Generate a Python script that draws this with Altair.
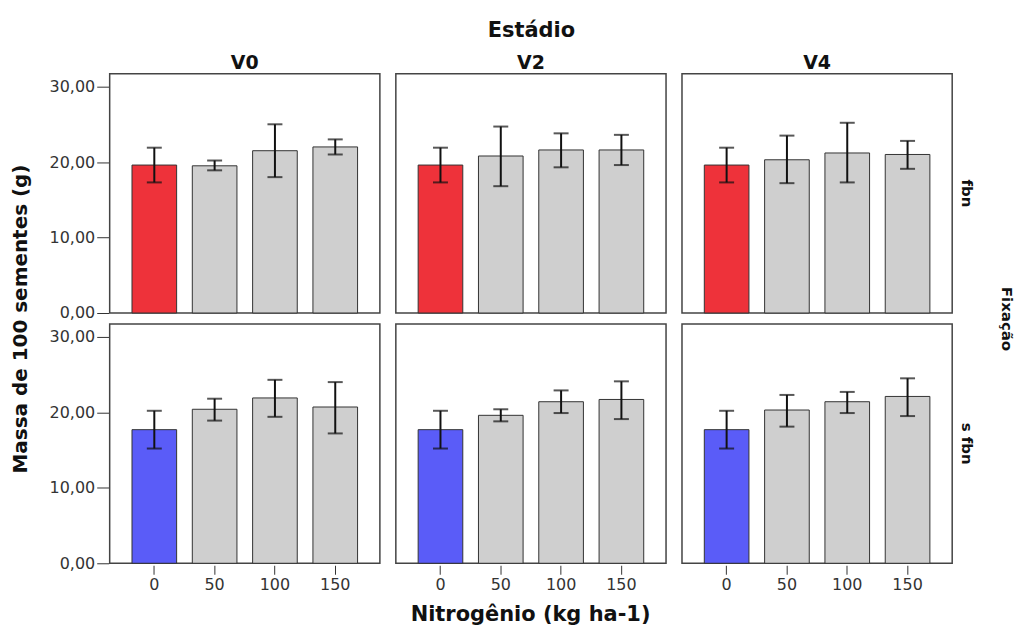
import altair as alt
import pandas as pd

stages = ["V0", "V2", "V4"]
fixacao = ["fbn", "s fbn"]
nitrogen = ["0", "50", "100", "150"]

means = {
    ("fbn", "V0"): [19.6, 19.5, 21.5, 22.0],
    ("fbn", "V2"): [19.6, 20.8, 21.6, 21.6],
    ("fbn", "V4"): [19.6, 20.3, 21.2, 21.0],
    ("s fbn", "V0"): [17.7, 20.4, 21.9, 20.7],
    ("s fbn", "V2"): [17.7, 19.6, 21.4, 21.7],
    ("s fbn", "V4"): [17.7, 20.3, 21.4, 22.1],
}
lows = {
    ("fbn", "V0"): [17.3, 18.9, 18.0, 21.0],
    ("fbn", "V2"): [17.3, 16.8, 19.3, 19.6],
    ("fbn", "V4"): [17.3, 17.2, 17.3, 19.1],
    ("s fbn", "V0"): [15.2, 18.9, 19.4, 17.2],
    ("s fbn", "V2"): [15.2, 18.8, 19.9, 19.1],
    ("s fbn", "V4"): [15.2, 18.1, 19.9, 19.5],
}
highs = {
    ("fbn", "V0"): [21.9, 20.2, 25.0, 23.0],
    ("fbn", "V2"): [21.9, 24.7, 23.8, 23.6],
    ("fbn", "V4"): [21.9, 23.5, 25.2, 22.8],
    ("s fbn", "V0"): [20.2, 21.8, 24.3, 24.0],
    ("s fbn", "V2"): [20.2, 20.4, 22.9, 24.1],
    ("s fbn", "V4"): [20.2, 22.3, 22.7, 24.5],
}

rows = []
for f in fixacao:
    for s in stages:
        for i, n in enumerate(nitrogen):
            if n == "0":
                grp = "ctrl_fbn" if f == "fbn" else "ctrl_sfbn"
            else:
                grp = "other"
            rows.append({
                "Fixação": f, "Estádio": s, "N": n,
                "mean": means[(f, s)][i], "lo": lows[(f, s)][i], "hi": highs[(f, s)][i],
                "grp": grp,
            })
df = pd.DataFrame(rows)

FONT = "DejaVu Sans"

x_enc = alt.X("N:N", sort=nitrogen, title=None,
              scale=alt.Scale(paddingInner=0.26, paddingOuter=0.37),
              axis=alt.Axis(labelAngle=0, tickSize=9, labelFontSize=16, labelColor="#333",
                            labelFont=FONT, domain=False, tickColor="#333", labelPadding=2))
y_scale = alt.Scale(domain=[0, 31.7], nice=False)

bars = alt.Chart().mark_bar(stroke="#333", strokeWidth=1).encode(
    x=x_enc,
    y=alt.Y("mean:Q", scale=y_scale, title=None,
            axis=alt.Axis(values=[0, 10, 20, 30], grid=False, tickSize=12,
                          labelExpr="replace(format(datum.value, '.2f'), '.', ',')",
                          labelFontSize=16, labelColor="#333", labelFont=FONT, domain=False,
                          tickColor="#333", labelPadding=2)),
    color=alt.Color("grp:N", scale=alt.Scale(domain=["ctrl_fbn", "ctrl_sfbn", "other"],
                                             range=["#EE323A", "#5A5CF8", "#CFCFCF"]),
                    legend=None),
)
rule = alt.Chart().mark_rule(color="#111", strokeWidth=2).encode(
    x=alt.X("N:N", sort=nitrogen), y=alt.Y("lo:Q", scale=y_scale), y2="hi:Q")
cap_lo = alt.Chart().mark_tick(color="#111", size=15, thickness=2, orient="horizontal").encode(
    x=alt.X("N:N", sort=nitrogen), y=alt.Y("lo:Q", scale=y_scale))
cap_hi = alt.Chart().mark_tick(color="#111", size=15, thickness=2, orient="horizontal").encode(
    x=alt.X("N:N", sort=nitrogen), y=alt.Y("hi:Q", scale=y_scale))

layer = alt.layer(bars, rule, cap_lo, cap_hi).properties(width=271, height=240)

faceted = layer.facet(
    data=df,
    column=alt.Column("Estádio:N", sort=stages,
                      header=alt.Header(title="Estádio", labelFontSize=19, labelFontWeight="bold",
                                        titleFontSize=21, titleFontWeight="bold",
                                        labelPadding=0, titlePadding=3, labelColor="#111",
                                        titleColor="#111", labelFont=FONT, titleFont=FONT)),
    row=alt.Row("Fixação:N", sort=fixacao,
                header=alt.Header(title="Fixação", labelOrient="right", titleOrient="right",
                                  labelAngle=90, titleAngle=90, labelFontSize=15,
                                  labelFontWeight="bold", titleFontSize=15, titleFontWeight="bold",
                                  labelPadding=6, titlePadding=15, labelColor="#111",
                                  titleColor="#111", labelFont=FONT, titleFont=FONT)),
    spacing={"column": 14, "row": 8},
).properties(
    title=alt.TitleParams("Massa de 100 sementes (g)", orient="left", anchor="middle",
                          fontSize=20, fontWeight="bold", color="#111", font=FONT, offset=18,
                          dx=-13)
)

chart = alt.vconcat(faceted).properties(
    title=alt.TitleParams("Nitrogênio (kg ha-1)", orient="bottom", anchor="middle",
                          fontSize=21, fontWeight="bold", color="#111", font=FONT, offset=12,
                          dx=18)
).configure(
    font=FONT, padding={"left": 11, "top": 19, "right": 5, "bottom": 5}
).configure_view(
    stroke="#444", strokeWidth=1.5
)

chart.save("out.html", embed_options={"renderer": "svg", "actions": False})
